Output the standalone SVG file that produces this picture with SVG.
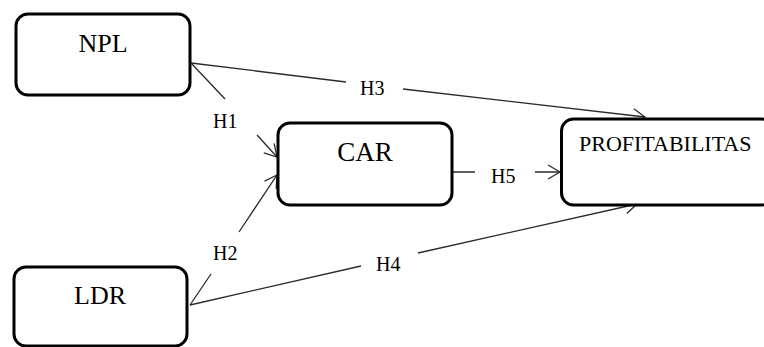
<svg xmlns="http://www.w3.org/2000/svg" width="764" height="347" viewBox="0 0 764 347">
  <style>
    .box { fill: #ffffff; stroke: #000000; stroke-width: 3; }
    .link { fill: none; stroke: #2a2a2a; stroke-width: 1.3; marker-end: url(#open); }
    text { font-family: 'Liberation Serif', 'DejaVu Serif', serif; fill: #000000; }
  </style>
  <defs>
    <marker id="open" viewBox="-14 -9 16 18" markerWidth="16" markerHeight="18" refX="0" refY="0" orient="auto" markerUnits="userSpaceOnUse" overflow="visible">
      <path d="M-12,-7 L0,0 L-12,7" fill="none" stroke="#2a2a2a" stroke-width="1.3"/>
    </marker>
  </defs>
  <rect width="764" height="347" fill="#ffffff"/>

  <!-- connectors, each split around its label -->
  <g id="connectors">
    <path class="link" d="M191,63 L346,82 M403,89 L645,117"/>
    <path class="link" d="M191,63 L225,99 M257,135 L277,157"/>
    <path class="link" d="M190,305 L211,274 M239,232 L277,175"/>
    <path class="link" d="M190,305 L361,266 M418,253 L637,204"/>
    <path class="link" d="M453,172 L475,172 M535,172 L560,172"/>
  </g>

  <g id="labels" font-size="20">
    <text x="213" y="128">H1</text>
    <text x="213" y="260">H2</text>
    <text x="360" y="95">H3</text>
    <text x="376" y="271">H4</text>
    <text x="491" y="183">H5</text>
  </g>

  <g id="npl">
    <rect class="box" x="16" y="14" width="174" height="81" rx="12"/>
    <text x="103" y="52" font-size="26" text-anchor="middle">NPL</text>
  </g>
  <g id="car">
    <rect class="box" x="278" y="123" width="174" height="82" rx="12"/>
    <text x="365" y="161" font-size="27" text-anchor="middle">CAR</text>
  </g>
  <g id="profitabilitas">
    <rect class="box" x="561.5" y="119" width="212" height="86" rx="12"/>
    <text x="579" y="151" font-size="22">PROFITABILITAS</text>
  </g>
  <g id="ldr">
    <rect class="box" x="14" y="267" width="173" height="79" rx="12"/>
    <text x="100" y="304" font-size="26" text-anchor="middle">LDR</text>
  </g>
</svg>
